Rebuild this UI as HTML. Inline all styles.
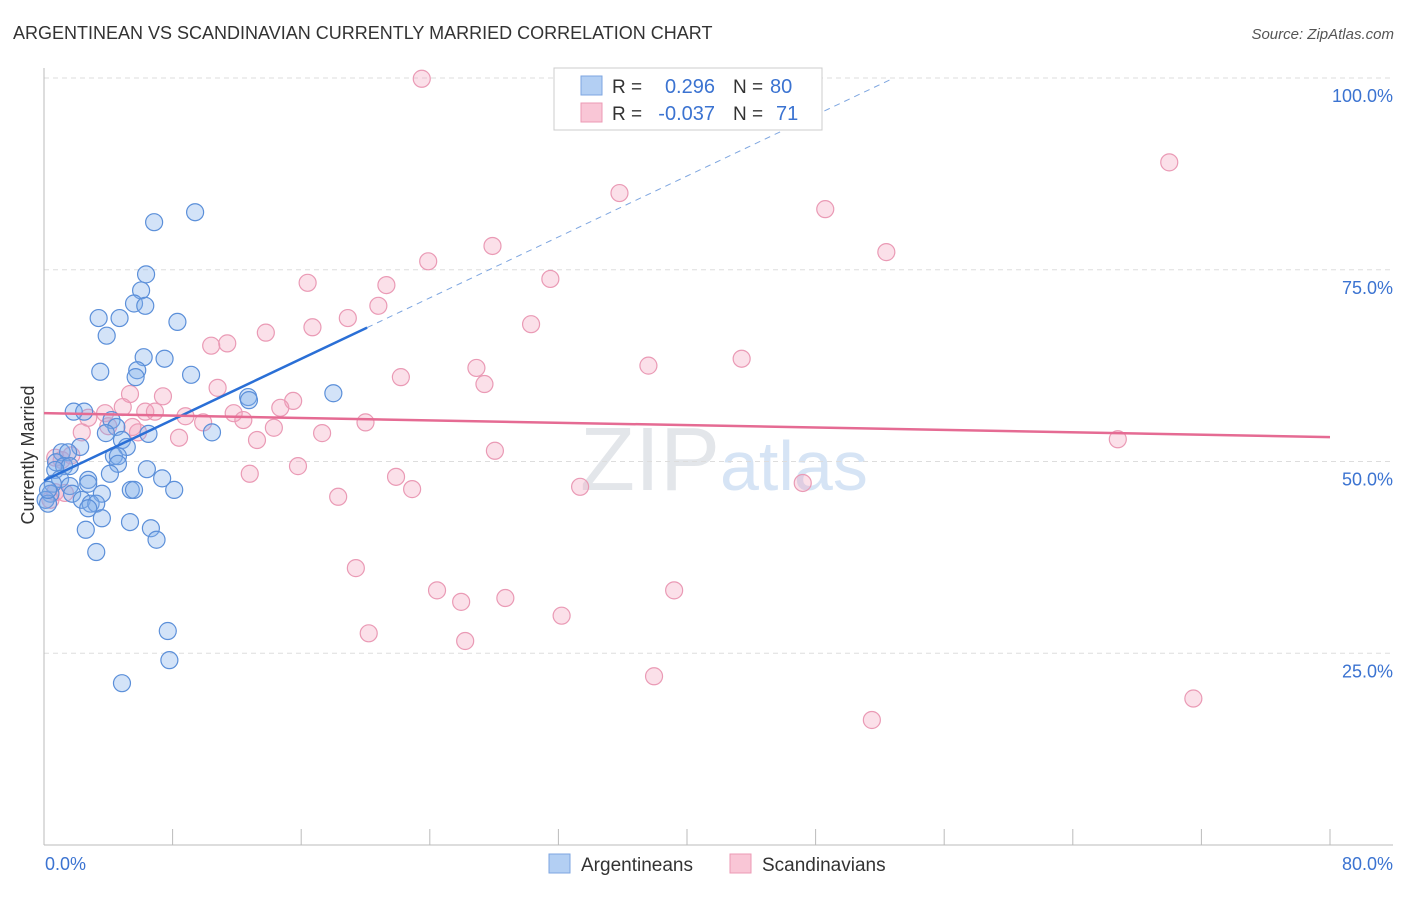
<!DOCTYPE html>
<html><head><meta charset="utf-8"><style>
body{margin:0;background:#fff;font-family:"Liberation Sans",sans-serif}
svg text{font-family:"Liberation Sans",sans-serif}
</style></head><body>
<svg id="c" width="1406" height="892">
<text x="13" y="39" font-size="18" fill="#333">ARGENTINEAN VS SCANDINAVIAN CURRENTLY MARRIED CORRELATION CHART</text>
<text x="1394" y="39" font-size="15" fill="#555" font-style="italic" text-anchor="end">Source: ZipAtlas.com</text>
<text x="720" y="490" font-size="90" fill="#e3e6ea" text-anchor="end" font-family="Liberation Serif">ZIP</text>
<text x="720" y="490" font-size="70" fill="#d6e4f5">atlas</text>
<g id="grid"></g><g id="axes"></g><g id="pts"></g><g id="trend"></g>
<text x="34" y="455" font-size="18" fill="#333" text-anchor="middle" transform="rotate(-90 34 455)">Currently Married</text>
<text x="45" y="870" font-size="18" fill="#3b73d1">0.0%</text>
<text x="1393" y="870" font-size="18" fill="#3b73d1" text-anchor="end">80.0%</text>
<g>
<rect x="554" y="68" width="268" height="62" fill="#fff" stroke="#ccc"/>
<rect x="581" y="76" width="21" height="19" fill="#b3cff3" stroke="#7ea6e0"/>
<rect x="581" y="103" width="21" height="19" fill="#f9c6d6" stroke="#ec9ab4"/>
<text x="612" y="93" font-size="19" fill="#333">R =</text><text x="715" y="93" font-size="20" fill="#3b73d1" text-anchor="end">0.296</text>
<text x="733" y="93" font-size="19" fill="#333">N =</text><text x="770" y="93" font-size="20" fill="#3b73d1">80</text>
<text x="612" y="120" font-size="19" fill="#333">R =</text><text x="715" y="120" font-size="20" fill="#3b73d1" text-anchor="end">-0.037</text>
<text x="733" y="120" font-size="19" fill="#333">N =</text><text x="776" y="120" font-size="20" fill="#3b73d1">71</text>
</g>
<g><rect x="549" y="854" width="21" height="19" fill="#b3cff3" stroke="#7ea6e0"/><text x="581" y="871" font-size="19" fill="#333">Argentineans</text></g>
<g><rect x="730" y="854" width="21" height="19" fill="#f9c6d6" stroke="#ec9ab4"/><text x="762" y="871" font-size="19" fill="#333">Scandinavians</text></g>
</svg>
<script>
const blueX=[6.85,9.4,6.35,6.04,5.6,6.3,3.4,4.7,8.3,3.9,6.2,7.5,3.5,5.8,5.7,9.15,18.0,12.7,12.75,1.85,2.5,4.2,4.5,6.5,10.45,3.85,4.85,5.15,2.25,1.1,1.5,4.35,4.6,0.75,1.25,1.6,4.6,6.4,0.7,4.1,7.35,2.75,1.0,0.55,1.6,2.75,5.4,5.6,8.1,0.4,1.75,3.6,0.1,2.35,2.9,3.25,2.75,3.6,5.35,6.65,2.6,7.0,3.25,7.7,7.8,4.85,0.25,0.25];
const blueY=[81.2,82.5,74.4,72.3,70.6,70.3,68.7,68.7,68.2,66.4,63.6,63.4,61.7,61.9,61.0,61.3,58.9,58.4,58.0,56.5,56.5,55.4,54.5,53.6,53.8,53.7,52.8,51.9,51.9,51.2,51.2,50.7,50.7,49.9,49.4,49.4,49.7,49.0,48.9,48.4,47.8,47.6,47.7,47.1,46.8,47.1,46.3,46.3,46.3,45.8,45.8,45.8,45.0,45.0,44.5,44.5,43.9,42.6,42.1,41.3,41.1,39.8,38.2,27.9,24.1,21.1,44.5,46.3];
const pinkX=[23.5,70.0,35.8,48.6,52.4,27.9,23.9,16.4,21.3,31.5,20.8,18.9,30.3,16.7,13.8,11.4,10.4,43.4,37.6,26.9,22.2,27.4,10.8,5.35,7.4,15.5,14.7,4.9,6.3,6.9,11.8,3.8,8.8,2.75,9.9,12.4,20.0,14.3,2.35,5.85,17.3,8.4,13.25,66.8,28.05,1.7,1.1,0.7,15.8,12.8,21.9,22.9,33.35,47.2,18.3,0.7,1.3,0.4,19.4,24.45,39.2,25.95,28.7,32.2,20.2,26.2,37.95,71.5,51.5,4.0,5.5];
const pinkY=[99.9,89.0,85.0,82.9,77.3,78.1,76.1,73.3,73.0,73.8,70.3,68.7,67.9,67.5,66.8,65.4,65.1,63.4,62.5,62.2,61.0,60.1,59.6,58.8,58.5,57.9,57.0,57.1,56.5,56.5,56.3,56.3,55.9,55.7,55.1,55.4,55.1,54.4,53.8,53.8,53.7,53.1,52.8,52.9,51.4,50.8,50.2,50.5,49.4,48.4,48.0,46.4,46.7,47.2,45.4,46.0,45.9,45.0,36.1,33.2,33.2,31.7,32.2,29.9,27.6,26.6,22.0,19.1,16.3,54.6,54.5];
const yTicks=[25,50,75,100];
const yTickLabels=["25.0%","50.0%","75.0%","100.0%"];
const xTicks=[0,8,16,24,32,40,48,56,64,72,80];
const blueTrend=[47.5,0.993]; // intercept, slope
const pinkTrend=[56.3,-0.039];
const X=v=>44+v*16.075, Y=v=>845-v*7.67;
const NS='http://www.w3.org/2000/svg';
function mk(p,t,a){const e=document.createElementNS(NS,t);for(const k in a)e.setAttribute(k,a[k]);document.getElementById(p).appendChild(e);return e;}
yTicks.forEach((t,i)=>{
 const l=mk('grid','line',{x1:44,x2:1393,y1:Y(t),y2:Y(t),stroke:'#ddd','stroke-dasharray':'5,4'});
 
 
 const tx=mk('grid','text',{x:1393,y:Y(t)+24,'font-size':18,fill:'#3b73d1','text-anchor':'end'});
 tx.textContent=yTickLabels[i];
 
 
});
const ya=mk('axes','line',{x1:44,x2:44,y1:68,y2:845,stroke:'#bbb'});


const xa=mk('axes','line',{x1:44,x2:1393,y1:845,y2:845,stroke:'#bbb'});


xTicks.forEach(t=>{
 const l=mk('axes','line',{x1:X(t),x2:X(t),y1:829,y2:845,stroke:'#bbb'});
 
 
});
pinkX.forEach((v,i)=>{
 const c=mk('pts','circle',{cx:X(v),cy:Y(pinkY[i]),r:8.5,fill:'rgba(244,160,188,0.32)',stroke:'#ea9ab5','stroke-width':1.2});
 
 
});
blueX.forEach((v,i)=>{
 const c=mk('pts','circle',{cx:X(v),cy:Y(blueY[i]),r:8.5,fill:'rgba(130,175,235,0.35)',stroke:'#5b8fd9','stroke-width':1.2});
 
 
});
const bx1=20.1, bx2=(100-blueTrend[0])/blueTrend[1];
const b1=mk('trend','line',{x1:X(0),y1:Y(blueTrend[0]),x2:X(bx1),y2:Y(blueTrend[0]+blueTrend[1]*bx1),stroke:'#2a6fd6','stroke-width':2.5});


const b2=mk('trend','line',{x1:X(bx1),y1:Y(blueTrend[0]+blueTrend[1]*bx1),x2:X(bx2),y2:Y(100),stroke:'#7ea6e0','stroke-width':1,'stroke-dasharray':'6,5'});


const p1=mk('trend','line',{x1:X(0),y1:Y(pinkTrend[0]),x2:X(80),y2:Y(pinkTrend[0]+pinkTrend[1]*80),stroke:'#e56b93','stroke-width':2.5});


</script>
</body></html>
